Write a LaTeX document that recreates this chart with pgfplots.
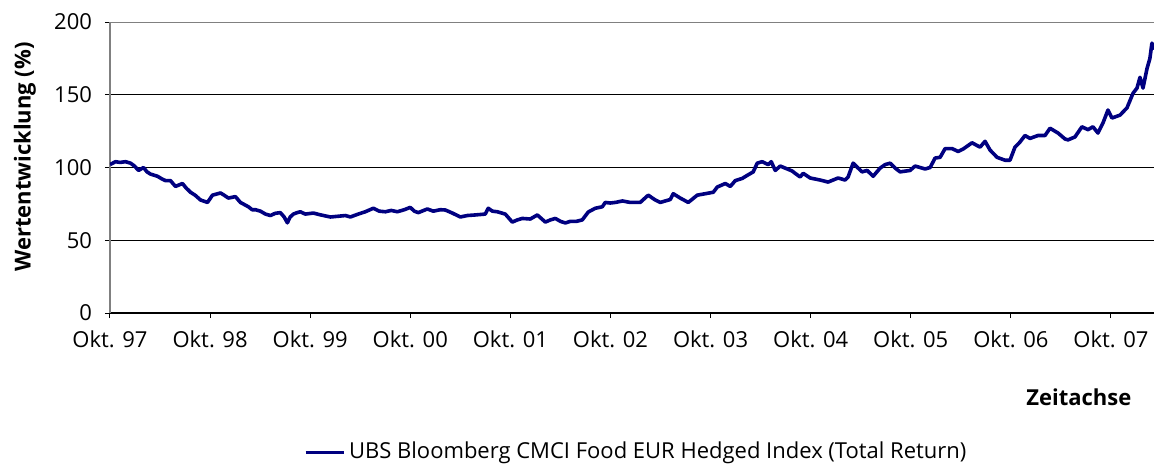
\documentclass[border=0pt]{standalone}
\usepackage{pgfplots}
\pgfplotsset{compat=1.18}
\usepackage{fontspec}
\setmainfont{Open Sans}
\definecolor{navyline}{RGB}{0,0,128}
\definecolor{frame}{RGB}{128,128,128}
\begin{document}
\begin{tikzpicture}
\begin{axis}[
  scale only axis,
  width=522pt, height=145.5pt,
  xmin=0, xmax=10.43, ymin=0, ymax=200,
  axis lines*=left,
  x axis line style={black, line width=0.6pt},
  y axis line style={frame, line width=0.8pt},
  tick align=outside,
  major tick length=2.5pt,
  tick style={black, line width=0.5pt},
  xtick={0,1,...,10},
  xticklabels={Okt. 97,Okt. 98,Okt. 99,Okt. 00,Okt. 01,Okt. 02,Okt. 03,Okt. 04,Okt. 05,Okt. 06,Okt. 07},
  ytick={0,50,100,150,200},
  ymajorgrids,
  grid style={black, line width=0.5pt},
  ticklabel style={font=\fontsize{11}{13}\selectfont},
  /pgf/number format/assume math mode=true,
  xticklabel style={yshift=-3pt},
  yticklabel style={xshift=-3pt},
  xlabel={Zeitachse},
  xlabel style={font=\fontsize{11}{13}\selectfont\bfseries, at={(axis description cs:0.928,0)}, anchor=center, yshift=-42pt},
  ylabel={Wertentwicklung (\%)},
  ylabel style={font=\fontsize{11}{13}\selectfont\bfseries, at={(axis description cs:-0.0814,0.536)}, anchor=center},
  legend style={draw=none, fill=none, font=\fontsize{11}{13}\selectfont, at={(axis description cs:0.505,0)}, anchor=center, yshift=-69.5pt, inner sep=0pt},
  legend cell align=left,
  legend image code/.code={\draw[#1, line width=1.5pt] (0pt,0pt) -- (19pt,0pt);},
]
\addplot[navyline, line width=1.8pt, line join=round] coordinates {
(0.000,102) (0.055,104) (0.10,103.5) (0.155,104) (0.205,103) (0.245,101) (0.285,98) (0.335,100) (0.37,97) (0.404,95.5)
(0.474,94) (0.51,92.5) (0.554,91) (0.604,91) (0.654,87) (0.724,89) (0.76,86) (0.804,83) (0.85,81) (0.904,77.7)
(0.974,76) (1.024,81) (1.104,82.5) (1.14,81) (1.183,79) (1.253,80) (1.303,76) (1.383,73) (1.42,71) (1.453,71)
(1.503,70) (1.553,68) (1.603,67) (1.65,68.5) (1.702,69) (1.74,66) (1.772,62) (1.80,66) (1.832,68) (1.87,69)
(1.902,69.6) (1.95,68) (2.032,68.7) (2.10,67.5) (2.202,66) (2.28,66.5) (2.352,67) (2.401,66) (2.48,68) (2.551,69.6)
(2.631,72) (2.69,70) (2.751,69.6) (2.81,70.5) (2.871,69.6) (2.94,71) (3.000,72.6) (3.040,70) (3.080,69) (3.170,71.5)
(3.230,70) (3.300,71) (3.350,70.8) (3.420,68.7) (3.500,66) (3.570,67) (3.650,67.4) (3.749,68) (3.779,72) (3.82,70)
(3.869,69.6) (3.949,68) (4.019,62.5) (4.07,64) (4.119,65) (4.199,64.6) (4.269,67.4) (4.349,62.5) (4.40,64) (4.449,65)
(4.500,63) (4.549,61.9) (4.599,63) (4.660,63) (4.718,64) (4.778,69.4) (4.848,72) (4.918,73) (4.948,76) (4.998,75.6)
(5.048,76) (5.120,77) (5.197,76) (5.297,76) (5.377,81) (5.440,78) (5.497,76) (5.597,78) (5.627,82) (5.697,79)
(5.777,76) (5.867,81) (5.947,82) (6.027,83) (6.067,86.6) (6.147,89) (6.197,87) (6.247,91) (6.316,92.5) (6.376,95)
(6.426,97) (6.466,103) (6.516,104) (6.576,102) (6.606,104) (6.646,98) (6.696,101) (6.745,99.6) (6.815,97.6) (6.845,96)
(6.895,93.5) (6.925,96) (6.995,92.8) (7.094,91.4) (7.174,90) (7.274,92.8) (7.344,91.4) (7.374,93.5) (7.424,103) (7.474,99.6)
(7.514,97) (7.564,98) (7.624,94) (7.694,99.6) (7.744,102) (7.794,103) (7.844,99.6) (7.893,97) (7.993,98) (8.043,101)
(8.143,99) (8.193,100) (8.243,106.5) (8.293,107) (8.343,113) (8.413,113) (8.473,111) (8.523,112.7) (8.612,117) (8.692,114)
(8.742,118) (8.792,112) (8.862,107) (8.942,105) (8.991,105) (9.041,114) (9.091,117.5) (9.141,122) (9.191,120) (9.271,122)
(9.341,122) (9.391,127) (9.471,123.7) (9.541,119.6) (9.571,119) (9.640,121) (9.710,128) (9.770,126) (9.820,128) (9.870,123.7)
(9.920,130.6) (9.970,139.5) (10.010,134) (10.090,136) (10.160,141) (10.220,151) (10.260,154.6) (10.290,162) (10.320,154.6) (10.360,168)
(10.389,175) (10.409,185.5) (10.429,181)
};
\addlegendentry{UBS Bloomberg CMCI Food EUR Hedged Index (Total Return)}
\draw[frame, line width=0.8pt] (rel axis cs:0,1) -- (rel axis cs:1,1);
\end{axis}
\pgfresetboundingbox
\path (-55pt,-75pt) rectangle (522pt,156.5pt);
\end{tikzpicture}
\end{document}
